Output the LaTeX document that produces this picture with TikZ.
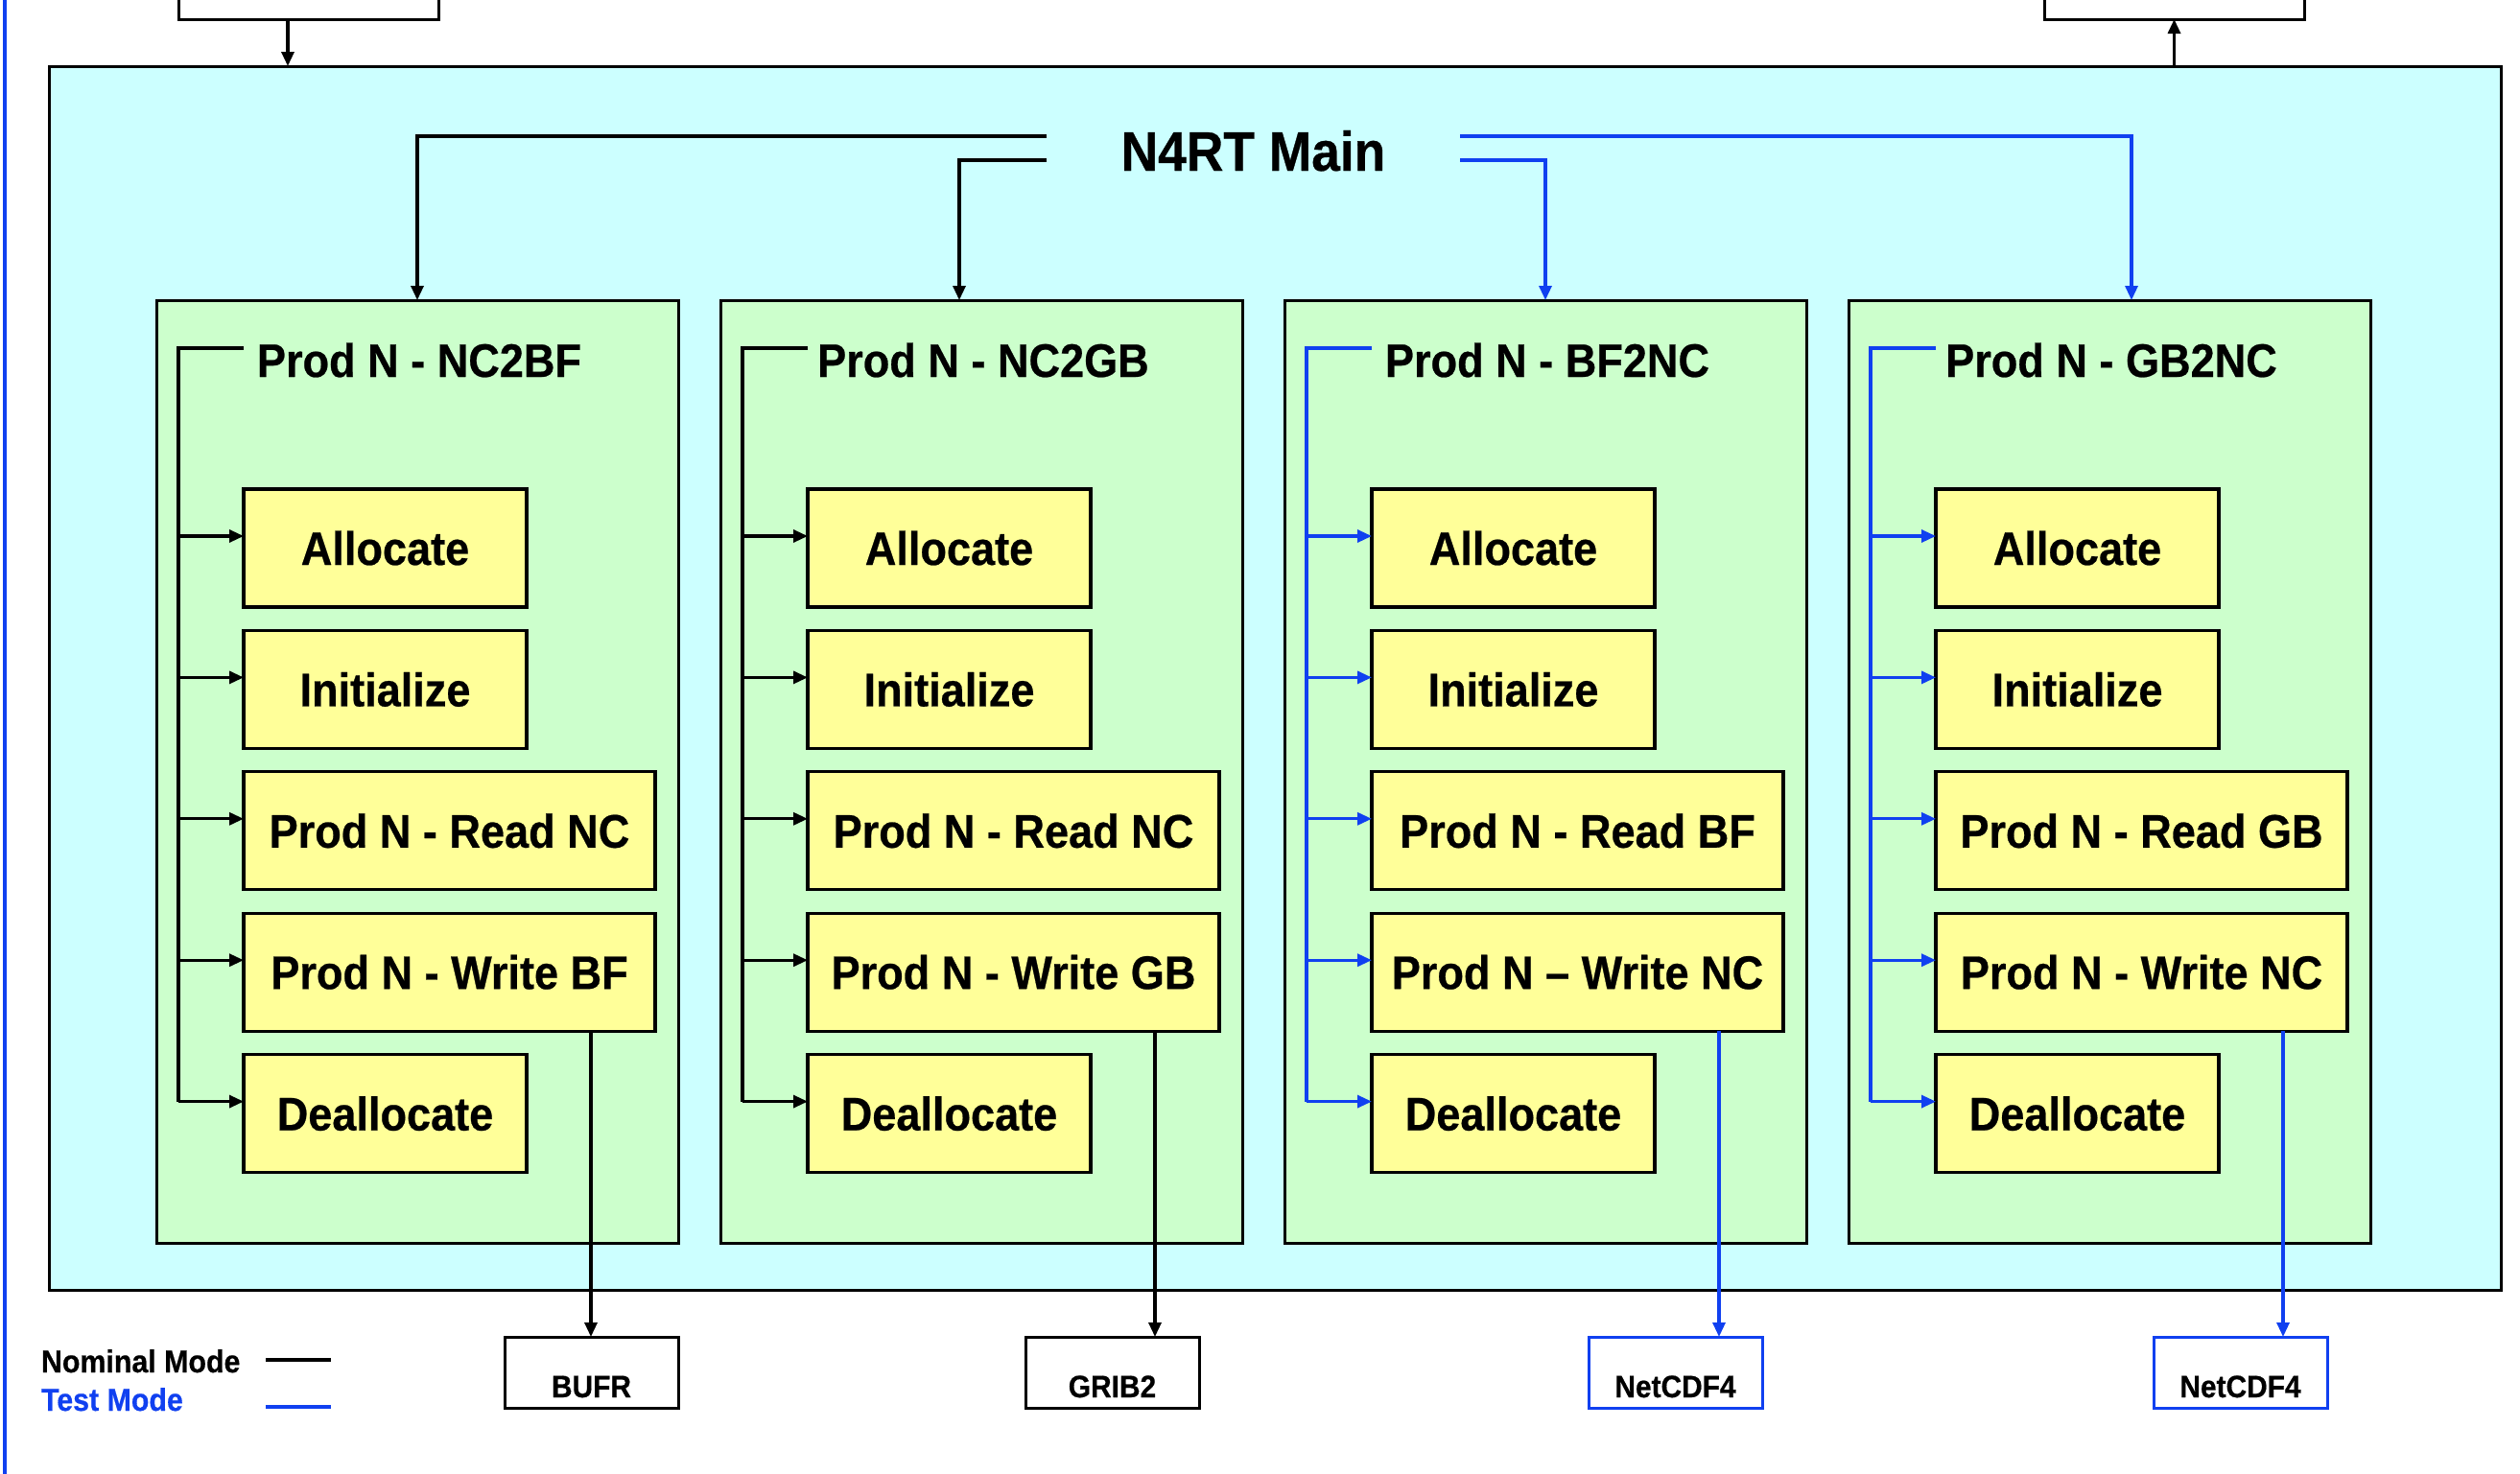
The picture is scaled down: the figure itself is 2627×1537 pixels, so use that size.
\documentclass[tikz,border=0pt]{standalone}
\usepackage{fontspec}
\setmainfont{Liberation Sans}[UprightFont=* Bold, FakeStretch=0.92, FakeBold=0.5]
\usetikzlibrary{arrows.meta,calc}
\definecolor{cyanbg}{HTML}{CCFFFF}
\definecolor{greenbg}{HTML}{CCFFCC}
\definecolor{yellowbg}{HTML}{FFFF99}
\definecolor{testblue}{RGB}{16,64,240}
\begin{document}
\begin{tikzpicture}[x=1pt,y=-1pt,
  every node/.style={inner sep=0pt, outer sep=0pt},
  conn/.style={line width=3.2pt},
  arr/.style={conn,-{Triangle[length=15pt,width=13pt]}},
  mainbox/.style={draw, line width=3pt, fill=cyanbg, rectangle, anchor=north west,
    minimum width=2556pt, minimum height=1276pt},
  greenbox/.style={draw, line width=3pt, fill=greenbg, rectangle, anchor=north west,
    minimum width=544pt, minimum height=983pt},
  ybox/.style={draw, line width=3.2pt, fill=yellowbg, rectangle, anchor=north west,
    minimum height=123pt, font=\fontsize{49pt}{55pt}\selectfont},
  titletext/.style={anchor=base, font=\fontsize{49pt}{55pt}\selectfont},
  maintext/.style={anchor=base, font=\fontsize{58pt}{66pt}\selectfont},
  obox/.style={draw, line width=3pt, fill=white, rectangle, anchor=north west,
    minimum width=181pt, minimum height=74pt, text height=63pt, text depth=11pt,
    font=\fontsize{32.5pt}{38pt}\selectfont},
  topbox/.style={draw, line width=3pt, fill=white, rectangle, anchor=north west,
    minimum width=271pt, minimum height=60pt},
  legendtext/.style={anchor=base west, font=\fontsize{33pt}{38pt}\selectfont}
]
\useasboundingbox (0,0) rectangle (2627,1537);

% left page line
\draw[testblue, line width=4pt] (5,-5) -- (5,1545);

% top boxes
\node[topbox] (inbox) at (186,-40) {};
\node[topbox] (outbox) at (2131,-40) {};

% main box
\node[mainbox] (mainbox) at (51,69) {};
\node[maintext] (maintitle) at (1306.5,178) {N4RT Main};

\coordinate (ia) at ([xshift=-21.5pt]inbox.south);
\draw[arr] (ia) -- (ia |- mainbox.north);
\draw[arr] (outbox.south |- mainbox.north) -- (outbox.south);

% columns
\foreach \i/\ttl/\rd/\wr/\col/\obx/\obt in {
  0/{Prod N - NC2BF}/{Prod N - Read NC}/{Prod N - Write BF}/black/526/BUFR,
  1/{Prod N - NC2GB}/{Prod N - Read NC}/{Prod N - Write GB}/black/1069/GRIB2,
  2/{Prod N - BF2NC}/{Prod N - Read BF}/{Prod N – Write NC}/testblue/1656/NetCDF4,
  3/{Prod N - GB2NC}/{Prod N - Read GB}/{Prod N - Write NC}/testblue/2245/NetCDF4}
{
  \pgfmathsetmacro\gx{163+588*\i}
  \node[greenbox] (g\i) at (\gx,313) {};
  \node[titletext] (t\i) at (\gx+274,393) {\ttl};
  \node[ybox,minimum width=295pt] (al\i) at (\gx+91,510) {Allocate};
  \node[ybox,minimum width=295pt] (in\i) at (\gx+91,657.4) {Initialize};
  \node[ybox,minimum width=429pt] (rd\i) at (\gx+91,804.8) {\rd};
  \node[ybox,minimum width=429pt] (wr\i) at (\gx+91,952.2) {\wr};
  \node[ybox,minimum width=295pt] (de\i) at (\gx+91,1099.6) {Deallocate};
  \coordinate (bk\i) at (\gx+23,363);
  \foreach \b in {al,in,rd,wr,de}{
    \coordinate (p\b\i) at ([yshift=12.5pt]\b\i.west);
    \draw[arr, color=\col] (bk\i |- p\b\i) -- (p\b\i);
  }
  \draw[conn, color=\col] (al\i.west |- bk\i) -- (bk\i) -- (bk\i |- pde\i);
  % output
  \node[obox, draw=\col] (ob\i) at (\obx,1394) {\obt};
  \coordinate (os\i) at ([xshift=362pt]wr\i.south west);
  \draw[arr, color=\col] (os\i) -- (os\i |- ob\i.north);
}

% main connectors
\coordinate (mL1) at (1091,142);
\coordinate (mL2) at (1091,167);
\coordinate (mR1) at (1522,142);
\coordinate (mR2) at (1522,167);
\draw[arr] (mL1) -| (g0.north);
\draw[arr] (mL2) -| ([xshift=-23pt]g1.north);
\draw[arr, color=testblue] (mR2) -| (g2.north);
\draw[arr, color=testblue] (mR1) -| ([xshift=23pt]g3.north);

% legend
\node[legendtext] (nom) at (43,1431) {Nominal Mode};
\node[legendtext, text=testblue] (tst) at (43,1471) {Test Mode};
\coordinate (l1) at (277,1418);
\coordinate (l2) at (277,1467);
\draw[line width=4pt] (l1) -- ++(68,0);
\draw[line width=4pt, testblue] (l2) -- ++(68,0);
\end{tikzpicture}
\end{document}
